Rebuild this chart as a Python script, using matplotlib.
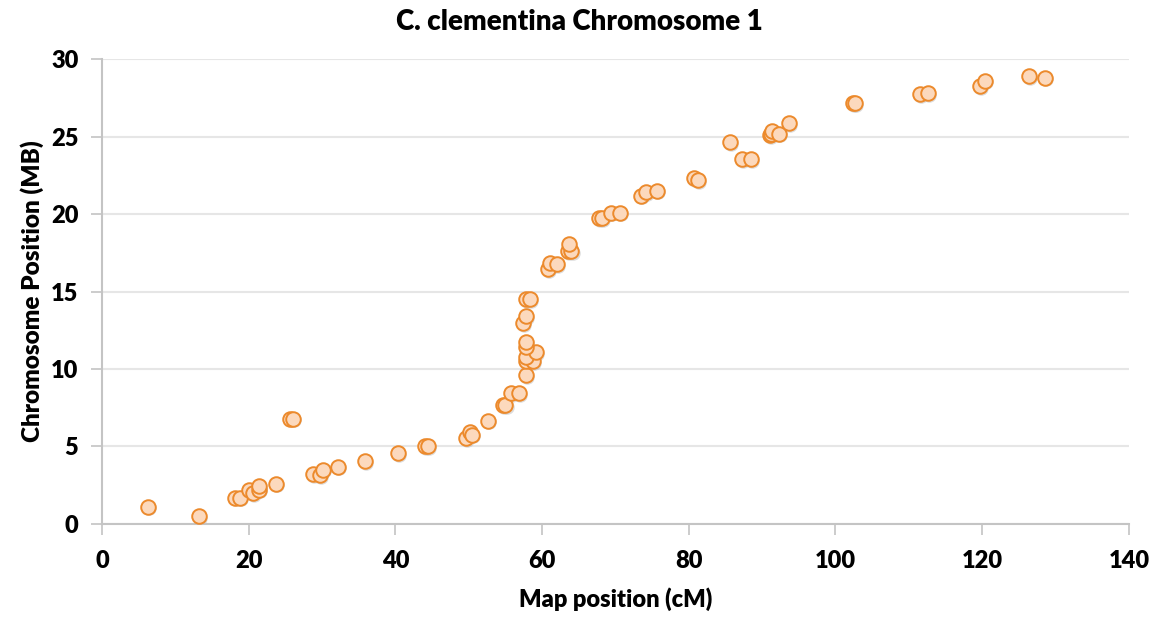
import matplotlib.pyplot as plt

# map position (cM) and chromosome position (MB)
map_cm = [6.3, 13.2, 18.1, 18.8, 20.0, 20.6, 21.4, 21.4, 23.7, 25.6, 26.0,
          28.8, 29.7, 30.1, 32.2, 35.9, 40.4, 44.0, 44.5,
          49.6, 50.2, 50.4, 52.6, 54.7, 55.0, 55.8, 56.8,
          57.8, 57.8, 58.8, 57.8, 59.2, 57.8, 57.8, 57.4, 57.8, 57.8, 58.3,
          60.8, 61.1, 62.0, 63.5, 64.0, 63.7, 67.8, 68.2, 69.4, 70.6,
          73.5, 74.2, 75.7, 80.7, 81.2, 85.6, 87.2, 88.5,
          91.1, 91.2, 91.4, 92.3, 93.6, 102.4, 102.7, 111.5, 112.6,
          119.7, 120.4, 126.4, 128.5]
chrom_mb = [1.1, 0.5, 1.7, 1.7, 2.2, 2.0, 2.2, 2.45, 2.6, 6.8, 6.8,
            3.2, 3.15, 3.5, 3.7, 4.05, 4.55, 5.0, 5.0,
            5.55, 5.95, 5.75, 6.65, 7.65, 7.65, 8.45, 8.45,
            9.6, 10.5, 10.5, 10.8, 11.1, 11.45, 11.75, 12.95, 13.4, 14.5, 14.5,
            16.45, 16.85, 16.75, 17.6, 17.6, 18.05, 19.75, 19.75, 20.1, 20.1,
            21.2, 21.4, 21.5, 22.3, 22.2, 24.65, 23.55, 23.55,
            25.1, 25.2, 25.35, 25.2, 25.85, 27.15, 27.15, 27.75, 27.8,
            28.25, 28.6, 28.9, 28.8]

plt.rcParams['font.family'] = ['Lato', 'DejaVu Sans']

fig = plt.figure(figsize=(11.59, 6.23), dpi=100)
ax = fig.add_axes([0.088, 0.159, 0.886, 0.746])

# soft shadow under each marker
ax.scatter([x + 0.15 for x in map_cm], [y - 0.1 for y in chrom_mb], s=110,
           color='#bdbdbd', alpha=0.5, zorder=2, linewidths=0)
ax.scatter(map_cm, chrom_mb, s=110, facecolor='#fcd9bd', edgecolor='#ec8a2c',
           linewidths=1.4, zorder=3)

ax.set_xlim(0, 140)
ax.set_ylim(0, 30)
ax.set_xticks(range(0, 141, 20))
ax.set_yticks(range(0, 31, 5))
ax.grid(axis='y', color='#e6e6e6', linewidth=1.5)
ax.set_axisbelow(True)

for s in ['top', 'right']:
    ax.spines[s].set_visible(False)
for s in ['left', 'bottom']:
    ax.spines[s].set_color('#c4c4c4')
    ax.spines[s].set_linewidth(1.5)
ax.tick_params(axis='x', colors='#c4c4c4', labelcolor='black',
               labelsize=17, length=8, width=1.2, pad=11)
ax.tick_params(axis='y', colors='#c4c4c4', labelcolor='black',
               labelsize=17, length=8, width=1.2, pad=9)
for lbl in ax.get_xticklabels() + ax.get_yticklabels():
    lbl.set_fontweight('heavy')

fig.text(0.5, 0.965, 'C. clementina Chromosome 1', ha='center', va='center',
         fontsize=20, fontweight='heavy')
ax.set_xlabel('Map position (cM)', fontsize=17, fontweight='heavy', labelpad=11)
ax.set_ylabel('Chromosome Position (MB)', fontsize=17.5, fontweight='heavy', labelpad=5)

fig.savefig('out.png', dpi=100)
